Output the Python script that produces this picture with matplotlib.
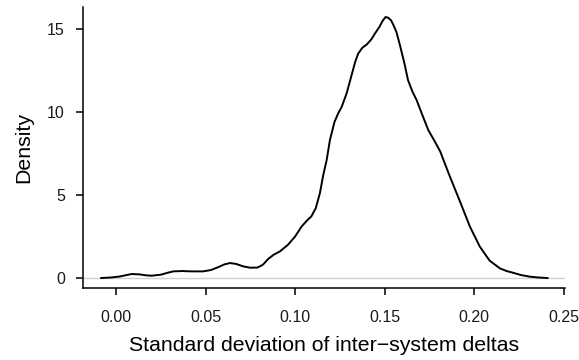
import matplotlib
matplotlib.use("Agg")
import matplotlib.pyplot as plt

plt.rcParams['font.family'] = ['Liberation Sans', 'DejaVu Sans']

# density curve
sd_delta = [-0.0084, -0.003, 0.002, 0.006, 0.0088, 0.013, 0.017, 0.020, 0.025, 0.029,
            0.032, 0.037, 0.042, 0.0486, 0.053, 0.057, 0.0605, 0.0636, 0.067, 0.071,
            0.075, 0.079, 0.082, 0.085, 0.088, 0.0915, 0.096, 0.100, 0.1036, 0.107,
            0.109, 0.1115, 0.1138, 0.1157, 0.1176, 0.1194, 0.122, 0.124, 0.126, 0.1287,
            0.1315, 0.1335, 0.1352, 0.1375, 0.14, 0.1425, 0.1445, 0.147, 0.149, 0.1505,
            0.152, 0.1535, 0.1547, 0.1565, 0.1585, 0.161, 0.163, 0.1655, 0.1678, 0.171,
            0.1743, 0.178, 0.181, 0.186, 0.192, 0.1975, 0.203, 0.2085, 0.2143, 0.218,
            0.2215, 0.226, 0.231, 0.236, 0.241]
density = [0.0, 0.03, 0.09, 0.18, 0.24, 0.22, 0.16, 0.14, 0.2, 0.32,
           0.4, 0.42, 0.4, 0.4, 0.48, 0.65, 0.82, 0.9, 0.85, 0.7,
           0.62, 0.63, 0.8, 1.15, 1.4, 1.6, 2.0, 2.5, 3.1, 3.5,
           3.7, 4.2, 5.1, 6.2, 7.1, 8.3, 9.4, 9.9, 10.3, 11.1,
           12.2, 13.0, 13.5, 13.85, 14.05, 14.35, 14.7, 15.1, 15.5, 15.7,
           15.65, 15.5, 15.25, 14.8, 14.0, 12.9, 11.9, 11.2, 10.7, 9.8,
           8.9, 8.2, 7.6, 6.2, 4.6, 3.1, 1.9, 1.05, 0.58, 0.42,
           0.32, 0.18, 0.08, 0.03, 0.0]

x_ticks = [0.00, 0.05, 0.10, 0.15, 0.20, 0.25]
y_ticks = [0, 5, 10, 15]

W, H = 579, 360
fig = plt.figure(figsize=(W / 100, H / 100), dpi=100)
ax = fig.add_axes([83 / W, (H - 288) / H, (565 - 83) / W, (288 - 7) / H])

ax.axhline(0, color='#d0d0d0', lw=1.0, zorder=1)
ax.plot(sd_delta, density, color='black', lw=1.4, zorder=2, solid_capstyle='round')

ax.set_xlim(-0.0184, 0.2506)
ax.set_ylim(-0.6, 16.3)
ax.set_xticks(x_ticks)
ax.set_xticklabels(['%.2f' % v for v in x_ticks])
ax.set_yticks(y_ticks)

for s in ['top', 'right']:
    ax.spines[s].set_visible(False)
for s in ['left', 'bottom']:
    ax.spines[s].set_linewidth(1.1)
ax.tick_params(axis='both', length=5, width=1.1, labelsize=11.5, color='black',
               labelcolor='#1a1a1a')
ax.tick_params(axis='x', pad=11)
ax.tick_params(axis='y', pad=8)

ax.set_xlabel('Standard deviation of inter\u2212system deltas', fontsize=15.3, labelpad=8)
ax.set_ylabel('Density', fontsize=15.3, labelpad=10)

fig.savefig('out.png', dpi=100)
